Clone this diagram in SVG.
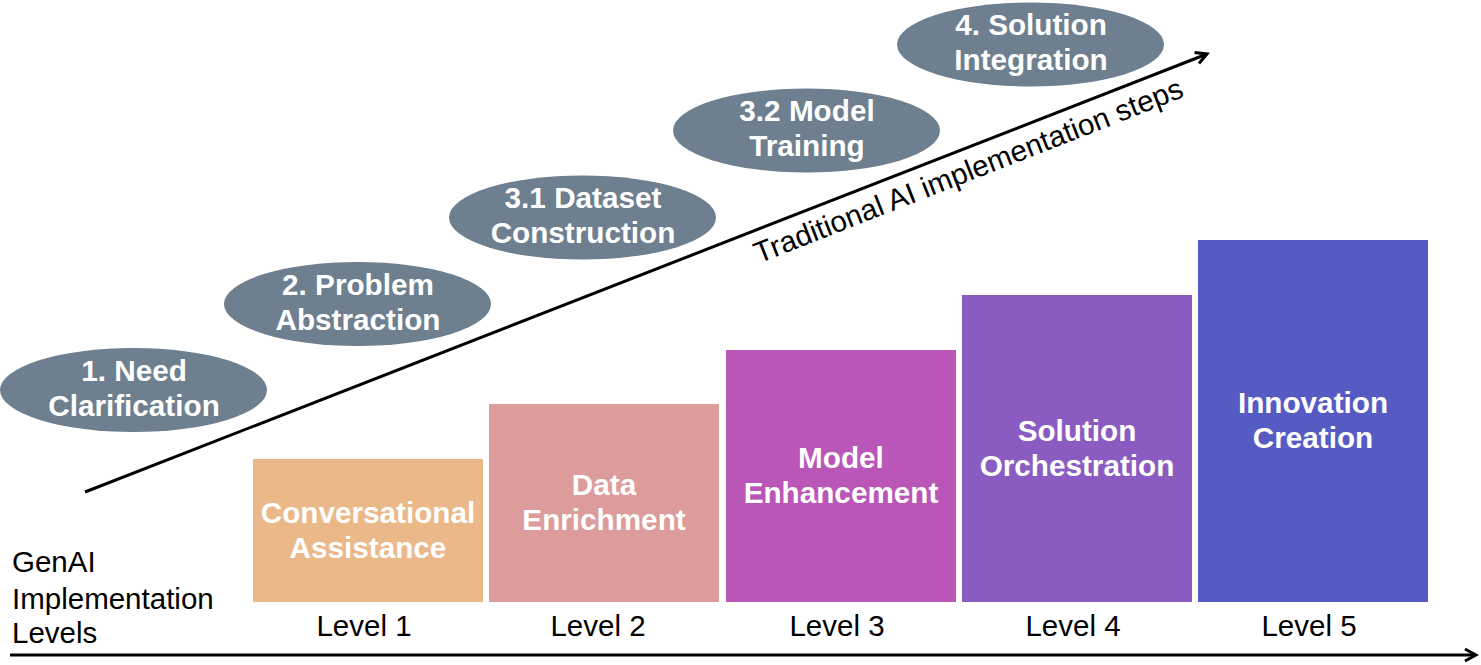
<svg xmlns="http://www.w3.org/2000/svg" width="1481" height="665" viewBox="0 0 1481 665">
<defs>
<style>
.ell{fill:#6E7F8F}
.wt{font-family:"Liberation Sans",Arial,sans-serif;font-weight:bold;font-size:29.7px;fill:#ffffff;text-anchor:middle}
.lv{font-family:"Liberation Sans",Arial,sans-serif;font-size:29.5px;fill:#000000;text-anchor:middle}
.bt{font-family:"Liberation Sans",Arial,sans-serif;font-size:29.5px;fill:#000000}
.ln{stroke:#000000;fill:none}
</style>
<marker id="arr2" viewBox="0 0 16 16" refX="13" refY="8" markerWidth="16" markerHeight="16" markerUnits="userSpaceOnUse" orient="auto">
<path d="M2,2 L13,8 L2,14" fill="none" stroke="#000" stroke-width="3"/>
</marker>
</defs>
<rect width="1481" height="665" fill="#ffffff"/>
<g id="connectors">
<line class="ln" x1="85" y1="492" x2="1207" y2="54" stroke-width="3" marker-end="url(#arr2)"/>
<line class="ln" x1="10" y1="655" x2="1476" y2="655" stroke-width="3" marker-end="url(#arr2)"/>
</g>
<g id="traditional-label">
<text class="bt" x="972" y="180" text-anchor="middle" transform="rotate(-21.4 972 180)">Traditional AI implementation steps</text>
</g>
<g id="step1"><ellipse class="ell" cx="133.5" cy="390" rx="133.5" ry="42"/><text class="wt" x="134" y="381">1. Need</text><text class="wt" x="134" y="416">Clarification</text></g>
<g id="step2"><ellipse class="ell" cx="357.5" cy="304" rx="133.5" ry="42"/><text class="wt" x="358" y="295">2. Problem</text><text class="wt" x="358" y="330">Abstraction</text></g>
<g id="step3-1"><ellipse class="ell" cx="582.5" cy="217.5" rx="133.5" ry="42"/><text class="wt" x="583" y="208">3.1 Dataset</text><text class="wt" x="583" y="243">Construction</text></g>
<g id="step3-2"><ellipse class="ell" cx="806.5" cy="130.5" rx="133.5" ry="42"/><text class="wt" x="807" y="121">3.2 Model</text><text class="wt" x="807" y="156">Training</text></g>
<g id="step4"><ellipse class="ell" cx="1030.5" cy="44.5" rx="133.5" ry="42"/><text class="wt" x="1031" y="35">4. Solution</text><text class="wt" x="1031" y="70">Integration</text></g>
<g id="level1"><rect x="253" y="459" width="230" height="143" fill="#EBB889"/><text class="wt" x="368" y="523">Conversational</text><text class="wt" x="368" y="558">Assistance</text><text class="lv" x="364" y="636">Level 1</text></g>
<g id="level2"><rect x="489" y="404" width="230" height="198" fill="#DC9C9B"/><text class="wt" x="604" y="495">Data</text><text class="wt" x="604" y="530">Enrichment</text><text class="lv" x="598" y="636">Level 2</text></g>
<g id="level3"><rect x="726" y="350" width="230" height="252" fill="#BA56B7"/><text class="wt" x="841" y="468">Model</text><text class="wt" x="841" y="503">Enhancement</text><text class="lv" x="837" y="636">Level 3</text></g>
<g id="level4"><rect x="962" y="295" width="230" height="307" fill="#8A5CC1"/><text class="wt" x="1077" y="441">Solution</text><text class="wt" x="1077" y="476">Orchestration</text><text class="lv" x="1073" y="636">Level 4</text></g>
<g id="level5"><rect x="1198" y="240" width="230" height="362" fill="#565BC4"/><text class="wt" x="1313" y="413">Innovation</text><text class="wt" x="1313" y="448">Creation</text><text class="lv" x="1309" y="636">Level 5</text></g>
<g id="axis-label"><text class="bt" x="12" y="572">GenAI</text><text class="bt" x="12" y="609">Implementation</text><text class="bt" x="12" y="643">Levels</text></g>
</svg>
